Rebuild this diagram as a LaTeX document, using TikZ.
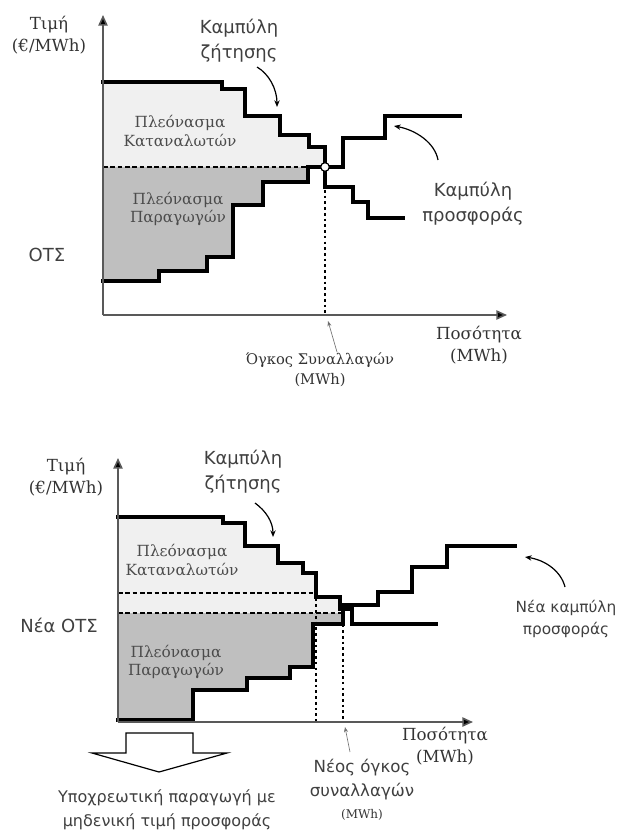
\documentclass[tikz,border=0pt]{standalone}
\usepackage{fontspec}
\setmainfont{DejaVu Serif}
\newfontfamily\labelsans{DejaVu Sans}
\usetikzlibrary{arrows.meta}

\definecolor{consumer}{gray}{0.94}
\definecolor{producer}{gray}{0.75}
\definecolor{labelgray}{gray}{0.30}
\definecolor{axisgray}{gray}{0.35}

\tikzset{
  stepcurve/.style={line width=2.8pt, line join=miter, line cap=rect},
  axisline/.style={draw=axisgray, line width=1.2pt, -{Triangle[length=8pt,width=7pt,fill=black]}},
  pricedash/.style={line width=1.5pt, dash pattern=on 3.5pt off 2pt},
  qtydots/.style={line width=2pt, dash pattern=on 2pt off 2.3pt},
  pointer/.style={line width=0.9pt, -{Stealth[length=5pt,width=4pt]}},
  thinpointer/.style={draw=black!55, line width=0.5pt, -{Stealth[length=4pt,width=3pt,fill=black]}},
  serifnote/.style={font=\fontsize{11.5}{14}\selectfont, text=labelgray, align=center},
  axislabel/.style={font=\fontsize{12.5}{17}\selectfont, text=black!80, align=center},
  sansnote/.style={font=\labelsans\fontsize{13.5}{19}\selectfont, text=black!75, align=center},
  hollowarrow/.style={draw=black, line width=0.9pt, fill=white, line join=miter},
}

\begin{document}
\begin{tikzpicture}[x=0.75pt,y=-0.75pt]
\useasboundingbox (0,0) rectangle (623,830);

% ---------------- upper chart: market equilibrium ----------------
\coordinate (O1) at (103,315);
\coordinate (Y1) at (103,15);
\coordinate (X1) at (507,315);
\coordinate (E1) at (325,167);
\coordinate (P1) at (103,167);
\coordinate (Q1) at (325,315);

% surplus areas
\fill[consumer] (103,82) -- (222,82) -- (222,89) -- (245,89) -- (245,116) -- (280,116)
  -- (280,135) -- (309,135) -- (309,147) -- (325,147) -- (E1) -- (P1) -- cycle;
\fill[producer] (P1) -- (E1) -- (308,167) -- (308,182) -- (263,182) -- (263,205) -- (233,205)
  -- (233,257) -- (207,257) -- (207,271) -- (159,271) -- (159,281) -- (103,281) -- cycle;

% price and quantity guides
\draw[pricedash] (P1) -- (E1);
\draw[qtydots] (E1) -- (Q1);

% demand and supply curves
\draw[stepcurve] (103,82) -- (222,82) -- (222,89) -- (245,89) -- (245,116) -- (280,116)
  -- (280,135) -- (309,135) -- (309,147) -- (325,147) -- (325,187) -- (353,187)
  -- (353,202) -- (368,202) -- (368,218) -- (403,218);
\draw[stepcurve] (103,281) -- (159,281) -- (159,271) -- (207,271) -- (207,257) -- (233,257)
  -- (233,205) -- (263,205) -- (263,182) -- (308,182) -- (308,167) -- (343,167)
  -- (343,138) -- (385,138) -- (385,116) -- (460,116);

% axes
\draw[axisline] (O1) -- (Y1);
\draw[axisline] (O1) -- (X1);

% equilibrium point
\node[circle, draw=black, line width=0.9pt, fill=white, inner sep=0pt, minimum size=6.5pt] (eq1) at (E1) {};

% labels
\node[axislabel] (price1) at (49,35) {Τιμή\\(€/MWh)};
\node[axislabel] (qty1) at (479,345) {Ποσότητα\\(MWh)};
\node[sansnote] (dem1) at (239,41) {Καμπύλη\\ζήτησης};
\node[sansnote] (sup1) at (473,204) {Καμπύλη\\προσφοράς};
\node[serifnote] (cs1) at (180,131) {Πλεόνασμα\\Καταναλωτών};
\node[serifnote] (ps1) at (178,209) {Πλεόνασμα\\Παραγωγών};
\node[sansnote] (ots1) at (47,255) {ΟΤΣ};
\node[axislabel, font=\fontsize{11}{15}\selectfont] (vol1) at (320,370) {Όγκος Συναλλαγών\\(MWh)};

\coordinate (dem1a) at (277,107);
\coordinate (sup1a) at (394,126);
\coordinate (vol1a) at (328,321);
\draw[pointer] (257,67) .. controls (269,74) and (277,89) .. (dem1a);
\draw[pointer] (438,160) .. controls (435,143) and (416,130) .. (sup1a);
\draw[thinpointer] (337,352) -- (vol1a);

% ---------------- lower chart: zero-price mandatory production ----------------
\coordinate (O2) at (118,722);
\coordinate (Y2) at (118,458);
\coordinate (X2) at (473,722);
\coordinate (Pold) at (118,593);
\coordinate (Pnew) at (118,613);
\coordinate (Eold) at (316,593);
\coordinate (Enew) at (343,613);
\coordinate (Qold) at (316,722);
\coordinate (Qnew) at (343,722);

\fill[consumer] (118,517) -- (223,517) -- (223,523) -- (245,523) -- (245,546) -- (278,546)
  -- (278,563) -- (303,563) -- (303,573) -- (316,573) -- (316,597) -- (340,597)
  -- (340,613) -- (Pnew) -- cycle;
\fill[producer] (Pnew) -- (Enew) -- (343,624) -- (313,624) -- (313,667) -- (290,667)
  -- (290,678) -- (247,678) -- (247,690) -- (193,690) -- (193,720) -- (118,720) -- cycle;

\draw[pricedash] (Pold) -- (Eold);
\draw[pricedash] (Pnew) -- (Enew);
\draw[qtydots] (Eold) -- (Qold);
\draw[qtydots] (Enew) -- (Qnew);

\draw[stepcurve] (118,517) -- (223,517) -- (223,523) -- (245,523) -- (245,546) -- (278,546)
  -- (278,563) -- (303,563) -- (303,573) -- (316,573) -- (316,597) -- (340,597)
  -- (340,609) -- (352,609) -- (352,624) -- (436,624);
\draw[stepcurve] (118,720) -- (193,720) -- (193,690) -- (247,690) -- (247,678) -- (290,678)
  -- (290,667) -- (313,667) -- (313,624) -- (343,624) -- (343,605) -- (378,605)
  -- (378,592) -- (412,592) -- (412,567) -- (447,567) -- (447,546) -- (515,546);

\draw[axisline] (O2) -- (Y2);
\draw[axisline] (O2) -- (X2);

\node[axislabel] (price2) at (66,477) {Τιμή\\(€/MWh)};
\node[axislabel] (qty2) at (445,746) {Ποσότητα\\(MWh)};
\node[sansnote] (dem2) at (243,472) {Καμπύλη\\ζήτησης};
\node[sansnote, font=\labelsans\fontsize{11.5}{17}\selectfont] (sup2) at (566,619) {Νέα καμπύλη\\προσφοράς};
\node[serifnote] (cs2) at (182,560) {Πλεόνασμα\\Καταναλωτών};
\node[serifnote] (ps2) at (176,662) {Πλεόνασμα\\Παραγωγών};
\node[sansnote] (ots2) at (59,625) {Νέα ΟΤΣ};
\node[sansnote, font=\labelsans\fontsize{12.5}{18}\selectfont] (vol2) at (362,780) {Νέος όγκος\\συναλλαγών};
\node[axislabel, font=\fontsize{9}{11}\selectfont] (vol2u) at (362,815) {(MWh)};
\node[sansnote, font=\labelsans\fontsize{12}{18}\selectfont] (must) at (167,810) {Υποχρεωτική παραγωγή με\\μηδενική τιμή προσφοράς};

\coordinate (dem2a) at (273,537);
\coordinate (sup2a) at (525,557);
\coordinate (vol2a) at (345,727);
\draw[pointer] (255,503) .. controls (266,511) and (273,522) .. (dem2a);
\draw[pointer] (565,587) .. controls (561,571) and (545,560) .. (sup2a);
\draw[thinpointer] (350,752) -- (vol2a);

% block arrow under the zero-price segment
\draw[hollowarrow] (126,733) -- (193,733) -- (193,753) -- (227,753) -- (159,772)
  -- (92,753) -- (126,753) -- cycle;
\end{tikzpicture}
\end{document}
